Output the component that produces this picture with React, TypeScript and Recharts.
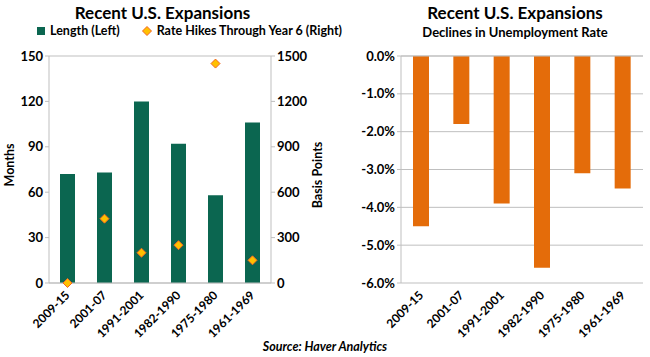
import React from 'react';
import {
    ComposedChart, BarChart, Bar, Scatter, XAxis, YAxis, CartesianGrid, ReferenceLine,
} from 'recharts';

const periods = ['2009-15', '2001-07', '1991-2001', '1982-1990', '1975-1980', '1961-1969'];
const lengthMonths = [72, 73, 120, 92, 58, 106];
const rateHikesBp = [0, 425, 200, 250, 1450, 150];
const unemploymentDecline = [-4.5, -1.8, -3.9, -5.6, -3.1, -3.5];

const leftTicks = [0, 30, 60, 90, 120, 150];
const rightTicks = [0, 300, 600, 900, 1200, 1500];
const pctTicks = [0, -1, -2, -3, -4, -5, -6];

const FONT = 'Lato, "Open Sans", sans-serif';
const GREEN = '#0B6650';
const ORANGE = '#E46C0A';
const GRID = '#BFBFBF';

const expansionData = periods.map((p, i) => ({ period: p, length: lengthMonths[i], hikes: rateHikesBp[i] }));
const declineData = periods.map((p, i) => ({ period: p, decline: unemploymentDecline[i] }));

const tickStyle = { fill: '#000', fontSize: 13, fontWeight: 700, fontFamily: FONT };

function SlantTick({ x, y, payload }: any) {
    return (
        <g transform={`translate(${x + 3},${y + 5})`}>
            <text
                textAnchor="end"
                transform="rotate(-45)"
                fontSize={12}
                fontWeight={700}
                fontFamily={FONT}
                fill="#000"
            >
                {payload.value}
            </text>
        </g>
    );
}

function Diamond({ cx, cy }: any) {
    if (cx == null || cy == null) return null;
    const r = 4.5;
    return (
        <path
            d={`M${cx},${cy - r}L${cx + r},${cy}L${cx},${cy + r}L${cx - r},${cy}Z`}
            fill="#FFC000"
            stroke="#F26522"
            strokeWidth={1}
        />
    );
}

const abs = (left: number, top: number): React.CSSProperties => ({ position: 'absolute', left, top });

export default function App() {
    return (
        <div style={{ position: 'absolute', left: 0, top: 0, width: 650, height: 357, background: '#fff', fontFamily: FONT }}>
            {/* Left chart */}
            <div style={{ ...abs(0, 3), width: 325, textAlign: 'center', fontSize: 17, lineHeight: '19px', fontWeight: 700 }}>
                Recent U.S. Expansions
            </div>
            <div style={{ ...abs(37, 24), display: 'flex', alignItems: 'center', fontSize: 12.5, lineHeight: '14px', fontWeight: 700, whiteSpace: 'nowrap' }}>
                <span style={{ width: 8, height: 8, background: GREEN, display: 'inline-block', marginRight: 5 }} />
                Length (Left)
                <svg width={10} height={10} style={{ marginLeft: 22, marginRight: 5 }}>
                    <path d="M5,0.5L9.5,5L5,9.5L0.5,5Z" fill="#FFC000" stroke="#F26522" />
                </svg>
                Rate Hikes Through Year 6 (Right)
            </div>
            <div style={{ ...abs(0, 0) }}>
                <ComposedChart
                    width={325}
                    height={340}
                    data={expansionData}
                    margin={{ top: 56, right: 0, bottom: 0, left: 0 }}
                >
                    <CartesianGrid horizontal vertical={false} stroke={GRID} />
                    <XAxis
                        dataKey="period"
                        height={57}
                        interval={0}
                        tick={<SlantTick />}
                        stroke={GRID}
                        tickLine={false}
                    />
                    <YAxis
                        yAxisId="left"
                        width={49}
                        domain={[0, 150]}
                        ticks={leftTicks}
                        tick={tickStyle}
                        stroke={GRID}
                        tickSize={4}
                    />
                    <YAxis
                        yAxisId="right"
                        orientation="right"
                        width={54}
                        domain={[0, 1500]}
                        ticks={rightTicks}
                        tick={tickStyle}
                        stroke={GRID}
                        tickSize={4}
                    />
                    <Bar yAxisId="left" dataKey="length" fill={GREEN} barSize={15} isAnimationActive={false} />
                    <Scatter yAxisId="right" dataKey="hikes" shape={<Diamond />} isAnimationActive={false} />
                </ComposedChart>
            </div>
            <svg width={325} height={340} style={{ ...abs(0, 0), pointerEvents: 'none' }}>
                <text
                    transform="translate(14,165) rotate(-90)"
                    textAnchor="middle"
                    fontSize={12.5}
                    fontWeight={700}
                    fontFamily={FONT}
                >
                    Months
                </text>
                <text
                    transform="translate(322,175) rotate(-90)"
                    textAnchor="middle"
                    fontSize={12.5}
                    fontWeight={700}
                    fontFamily={FONT}
                >
                    Basis Points
                </text>
            </svg>

            {/* Right chart */}
            <div style={{ ...abs(380, 3), width: 270, textAlign: 'center', fontWeight: 700 }}>
                <div style={{ fontSize: 17, lineHeight: '19px' }}>Recent U.S. Expansions</div>
                <div style={{ fontSize: 13, lineHeight: '16px', marginTop: 2 }}>Declines in Unemployment Rate</div>
            </div>
            <div style={{ ...abs(325, 0) }}>
                <BarChart
                    width={325}
                    height={340}
                    data={declineData}
                    margin={{ top: 56, right: 7, bottom: 0, left: 0 }}
                >
                    <CartesianGrid horizontal vertical={false} stroke={GRID} />
                    <XAxis
                        dataKey="period"
                        height={57}
                        interval={0}
                        tick={<SlantTick />}
                        axisLine={false}
                        tickLine={false}
                    />
                    <YAxis
                        width={76}
                        domain={[-6, 0]}
                        ticks={pctTicks}
                        tick={tickStyle}
                        tickFormatter={(v: number) => `${v.toFixed(1)}%`}
                        stroke={GRID}
                        tickSize={4}
                    />
                    <ReferenceLine y={0} stroke={GRID} />
                    <Bar dataKey="decline" fill={ORANGE} barSize={16} isAnimationActive={false} />
                </BarChart>
            </div>

            <div style={{ ...abs(0, 339), width: 650, textAlign: 'center', fontSize: 12.5, lineHeight: '15px', fontWeight: 700, fontStyle: 'italic' }}>
                Source: Haver Analytics
            </div>
        </div>
    );
}
